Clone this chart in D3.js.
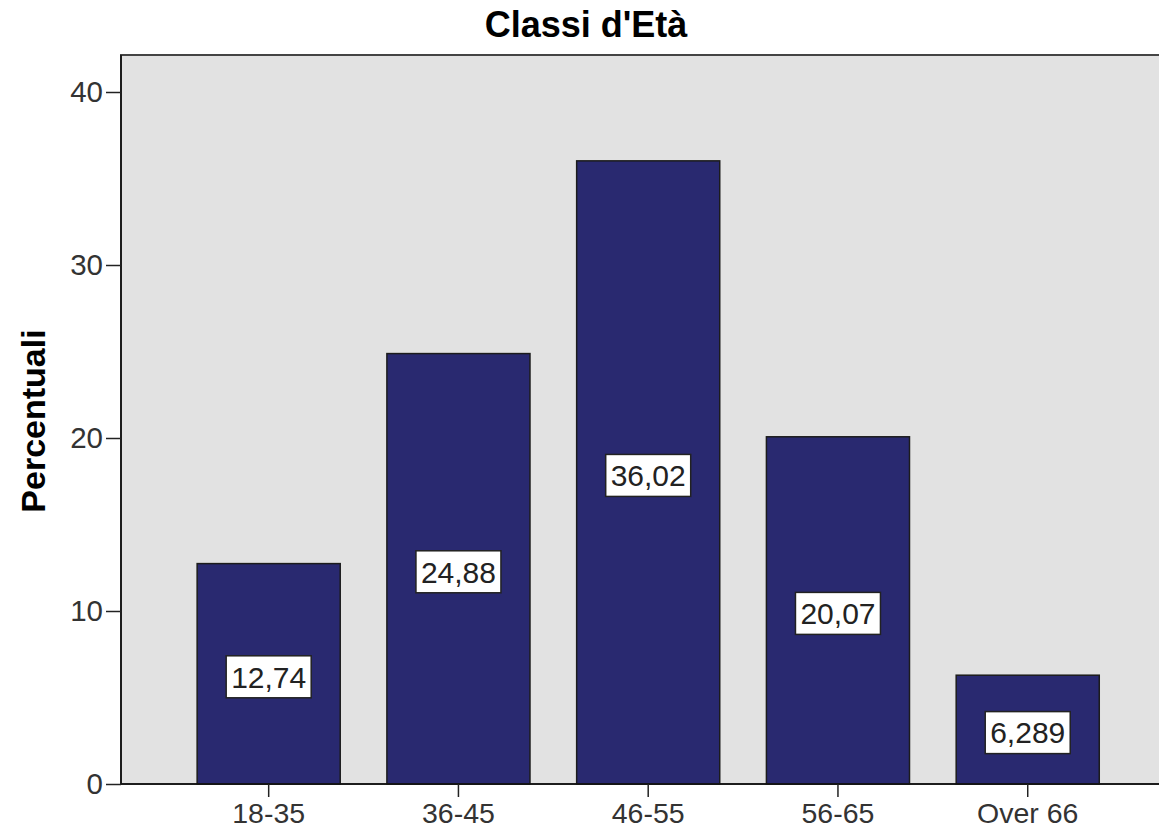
<!DOCTYPE html>
<html>
<head>
<meta charset="utf-8">
<script src="https://cdn.jsdelivr.net/npm/d3@7"></script>
<style>
  body { margin: 0; background: #fff; }
  svg { display: block; font-family: "Liberation Sans", Arial, sans-serif; }
</style>
</head>
<body>
<svg width="1159" height="830"></svg>
<script>
// data
const categories = ["18-35", "36-45", "46-55", "56-65", "Over 66"]
const percents = [12.74, 24.88, 36.02, 20.07, 6.289]
const yTicks = [0, 10, 20, 30, 40]

const svg = d3.select("svg")

// italian style numbers, 4 significant digits
const it = d3.formatLocale({ decimal: ",", thousands: ".", grouping: [3], currency: ["", "€"] })
const fmt = it.format(".4")

// plot area
const plotLeft = 121, plotBottom = 784, plotTop = 55
let y = d3.scaleLinear().domain([0, 40]).range([plotBottom, 92])
const x = d3.scaleBand()
  .domain(categories)
  .range([173.8, 1122.6])
  .paddingInner(0.246)
  .paddingOuter(0.123)

svg.append("rect")
  .attr("x", plotLeft)
  .attr("y", plotTop)
  .attr("width", 1200 - plotLeft)
  .attr("height", plotBottom - plotTop)
  .attr("fill", "#e2e2e2")
  .attr("stroke", "#444")
  .attr("stroke-width", 2)

// bars
svg.selectAll(".bar")
  .data(percents)
  .enter().append("rect")
  .attr("class", "bar")
  .attr("x", (d, i) => x(categories[i]))
  .attr("y", d => y(d))
  .attr("width", x.bandwidth())
  .attr("height", d => plotBottom - y(d))
  .attr("fill", "#292970")
  .attr("stroke", "#1c1c1c")
  .attr("stroke-width", 1.5)

// axes
let yAxis = svg.append("g")
  .attr("transform", `translate(${plotLeft},0)`)
  .call(d3.axisLeft(y).tickValues(yTicks).tickSize(15).tickPadding(3))
yAxis.select(".domain").attr("d", `M0,${plotTop}V${plotBottom}`).attr("stroke", "#111").attr("stroke-width", 1.5)
yAxis.selectAll(".tick line").attr("stroke", "#222").attr("stroke-width", 1.5)
yAxis.selectAll("text").attr("font-size", 29.5).attr("fill", "#333").attr("font-family", "Liberation Sans, Arial")

let xAxis = svg.append("g")
  .attr("transform", `translate(0,${plotBottom})`)
  .call(d3.axisBottom(x).tickSize(13).tickPadding(6))
xAxis.select(".domain").attr("d", `M${plotLeft},0H1159`).attr("stroke", "#111").attr("stroke-width", 1.5)
xAxis.selectAll(".tick line").attr("stroke", "#222").attr("stroke-width", 1.5)
xAxis.selectAll("text").attr("font-size", 28.5).attr("fill", "#333").attr("font-family", "Liberation Sans, Arial")

// value labels in white boxes
let labels = svg.selectAll(".lab")
  .data(percents)
  .enter().append("g")
  .attr("class", "lab")
  .attr("transform", (d, i) => `translate(${x(categories[i]) + x.bandwidth() / 2},${y(d / 2) + 3})`)

labels.append("rect")
  .attr("x", -42.5)
  .attr("y", -21)
  .attr("width", 85)
  .attr("height", 42)
  .attr("fill", "#fff")
  .attr("stroke", "#222")
  .attr("stroke-width", 1.5)

labels.append("text")
  .attr("text-anchor", "middle")
  .attr("dy", "0.36em")
  .attr("font-size", 30)
  .attr("fill", "#222")
  .text(d => fmt(d))

// title
svg.append("text")
  .attr("x", 586)
  .attr("y", 37)
  .attr("text-anchor", "middle")
  .attr("font-size", 36)
  .attr("font-weight", "bold")
  .text("Classi d'Età")

// y label
svg.append("text")
  .attr("transform", "translate(45,421) rotate(-90)")
  .attr("text-anchor", "middle")
  .attr("font-size", 34)
  .attr("font-weight", "bold")
  .text("Percentuali")
</script>
</body>
</html>
